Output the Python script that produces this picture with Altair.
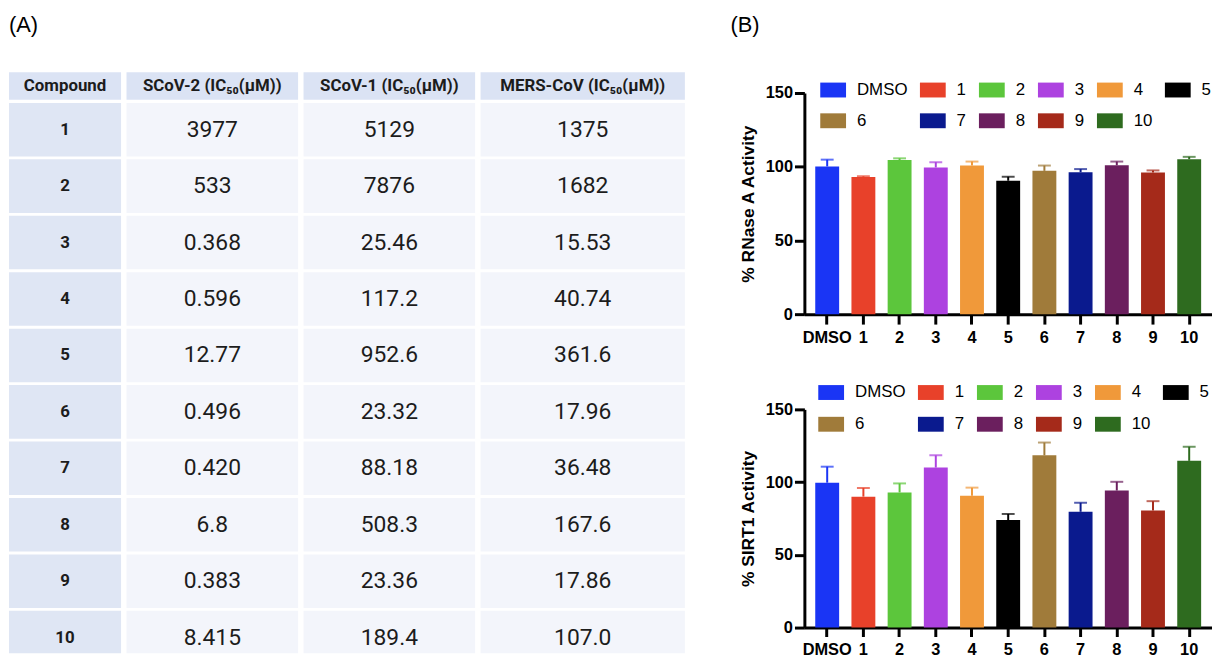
import altair as alt
import pandas as pd

# ---------------- data: table (A) ----------------
table_headers = ["Compound", "SCoV-2 (IC₅₀(μM))", "SCoV-1 (IC₅₀(μM))", "MERS-CoV (IC₅₀(μM))"]
compounds = ["1", "2", "3", "4", "5", "6", "7", "8", "9", "10"]
scov2_ic50 = ["3977", "533", "0.368", "0.596", "12.77", "0.496", "0.420", "6.8", "0.383", "8.415"]
scov1_ic50 = ["5129", "7876", "25.46", "117.2", "952.6", "23.32", "88.18", "508.3", "23.36", "189.4"]
mers_ic50 = ["1375", "1682", "15.53", "40.74", "361.6", "17.96", "36.48", "167.6", "17.86", "107.0"]

# ---------------- data: bar charts (B) ----------------
groups = ["DMSO", "1", "2", "3", "4", "5", "6", "7", "8", "9", "10"]
rnase_mean = [100.2, 93.0, 104.5, 99.5, 100.8, 90.5, 97.2, 96.3, 101.0, 96.1, 105.1]
rnase_sd = [4.6, 0.5, 1.2, 3.6, 2.7, 2.7, 3.6, 2.1, 2.5, 1.4, 1.6]
sirt1_mean = [99.6, 90.0, 92.9, 110.0, 90.7, 73.9, 118.4, 79.6, 94.2, 80.5, 114.6]
sirt1_sd = [11.0, 6.0, 6.2, 8.4, 5.5, 4.2, 8.8, 6.2, 6.0, 6.4, 9.7]
bar_colors = ["#1a35f5", "#e8412a", "#5cc63c", "#ad42e0", "#f0993a", "#000000",
              "#a07b3a", "#0a1a8e", "#6b1f5e", "#a52a1a", "#2e6b1f"]

# ---------------- table layout (styling constants) ----------------
COL_WIDTHS = [113, 173, 173, 206]
COL_GAP = 5.5
HEADER_H = 0.49
DATA_TOP = 0.545
DATA_H = 0.949
ROW_PX = 56.9
Y_SHIFT = 0.369          # header sits slightly above the bar panel's plot top
TABLE_H = 565
Y_MAX = Y_SHIFT + TABLE_H / ROW_PX
TABLE_W = sum(COL_WIDTHS) + COL_GAP * (len(COL_WIDTHS) - 1)

columns = [compounds, scov2_ic50, scov1_ic50, mers_ic50]
rows = []
xstart = 0
for c, (head, vals) in enumerate(zip(table_headers, columns)):
    x0, x1 = xstart, xstart + COL_WIDTHS[c]
    rows.append(dict(x0=x0, x1=x1, xc=(x0 + x1) / 2, y0=0, y1=HEADER_H,
                     yc=HEADER_H / 2, text=head, kind="head"))
    for i, v in enumerate(vals):
        y0 = i + DATA_TOP
        rows.append(dict(x0=x0, x1=x1, xc=(x0 + x1) / 2, y0=y0,
                         y1=min(y0 + DATA_H, Y_MAX),
                         yc=y0 + DATA_H / 2, text=v, kind="comp" if c == 0 else "val"))
    xstart = x1 + COL_GAP
cells = pd.DataFrame(rows)

xs = alt.Scale(domain=[0, TABLE_W], nice=False, zero=False)
ys = alt.Scale(domain=[Y_SHIFT, Y_MAX], nice=False, zero=False, reverse=True)

tbase = alt.Chart(cells)
fills = {"head": "#dbe3f4", "comp": "#dfe6f4", "val": "#f3f5fb"}
rect_layers = [
    tbase.transform_filter(alt.datum.kind == k).mark_rect(color=col).encode(
        x=alt.X("x0:Q", scale=xs, axis=None), x2="x1:Q",
        y=alt.Y("y0:Q", scale=ys, axis=None), y2="y1:Q")
    for k, col in fills.items()
]
text_styles = {"head": dict(fontSize=17, fontWeight="bold"),
               "comp": dict(fontSize=17, fontWeight="bold"),
               "val": dict(fontSize=23)}
text_layers = [
    tbase.transform_filter(alt.datum.kind == k).mark_text(
        font="Roboto", color="#1c1c1c", baseline="middle", **st
    ).encode(x=alt.X("xc:Q", scale=xs, axis=None), y=alt.Y("yc:Q", scale=ys, axis=None),
             text="text:N")
    for k, st in text_styles.items()
]

table = alt.layer(*rect_layers, *text_layers).properties(
    width=TABLE_W, height=TABLE_H,
    title=alt.TitleParams(text="(A)", anchor="start", fontSize=22, font="Liberation Sans",
                          fontWeight="normal", color="black", offset=36),
)

# ---------------- bar charts ----------------
SYMBOL = "M-1,-0.577H1V0.577H-1Z"


def bar_chart(mean, sd, ytitle, height, legend_x, legend_y, col_pad, row_pad,
              xtick, xlabpad):
    df = pd.DataFrame({"group": groups, "mean": mean,
                       "top": [m + s for m, s in zip(mean, sd)]})
    xenc = alt.X("group:N", sort=groups,
                 scale=alt.Scale(paddingInner=0.34, paddingOuter=0.3),
                 axis=alt.Axis(title=None, labelAngle=0, labelPadding=xlabpad,
                               tickSize=xtick))
    cscale = alt.Scale(domain=groups, range=bar_colors)
    yscale = alt.Scale(domain=[0, 150], nice=False)
    base = alt.Chart(df).encode(x=xenc)
    bars = base.mark_bar().encode(
        y=alt.Y("mean:Q", scale=yscale,
                axis=alt.Axis(values=[0, 50, 100, 150], title=ytitle, titlePadding=8,
                              labelPadding=2)),
        color=alt.Color("group:N", sort=groups, scale=cscale,
                        legend=alt.Legend(title=None, orient="none", legendX=legend_x,
                                          legendY=legend_y, direction="horizontal", columns=6,
                                          symbolType=SYMBOL, symbolSize=676,
                                          symbolStrokeWidth=0, symbolOpacity=1,
                                          labelFont="Liberation Sans", labelFontSize=17,
                                          labelColor="black", labelOffset=11,
                                          columnPadding=col_pad, rowPadding=row_pad,
                                          padding=0)),
    )
    err = base.mark_rule(strokeWidth=2).encode(
        y=alt.Y("mean:Q", scale=yscale), y2="top:Q",
        color=alt.Color("group:N", sort=groups, scale=cscale, legend=None))
    caps = base.mark_tick(thickness=2, size=13).encode(
        y=alt.Y("top:Q", scale=yscale),
        color=alt.Color("group:N", sort=groups, scale=cscale, legend=None))
    return alt.layer(bars, err, caps).properties(width=411, height=height)


top = bar_chart(rnase_mean, rnase_sd, "% RNase A Activity", 223, 16, -16, 12.5, 10, 10, 6)
bottom = bar_chart(sirt1_mean, sirt1_sd, "% SIRT1 Activity", 220, 14, -30, 12.5, 11, 9, 5)

right = alt.vconcat(
    top, bottom, spacing=33,
    title=alt.TitleParams(text="(B)", anchor="start", fontSize=22, font="Liberation Sans",
                          fontWeight="normal", color="black", offset=40.5, dx=-9),
).resolve_scale(color="independent")

chart = alt.hconcat(table, right, spacing=45).properties(
    padding={"left": 1, "top": 3, "right": 0, "bottom": 0}
).configure_view(stroke=None).configure_axis(
    grid=False, domainColor="black", domainWidth=3, tickColor="black", tickWidth=3,
    tickSize=10, labelFont="Liberation Sans", labelFontWeight="bold", labelFontSize=16.5,
    labelColor="black", titleFont="Liberation Sans", titleFontWeight="bold",
    titleFontSize=17.5, titleColor="black",
)

chart.save("out.html", embed_options={"renderer": "svg", "actions": False})
